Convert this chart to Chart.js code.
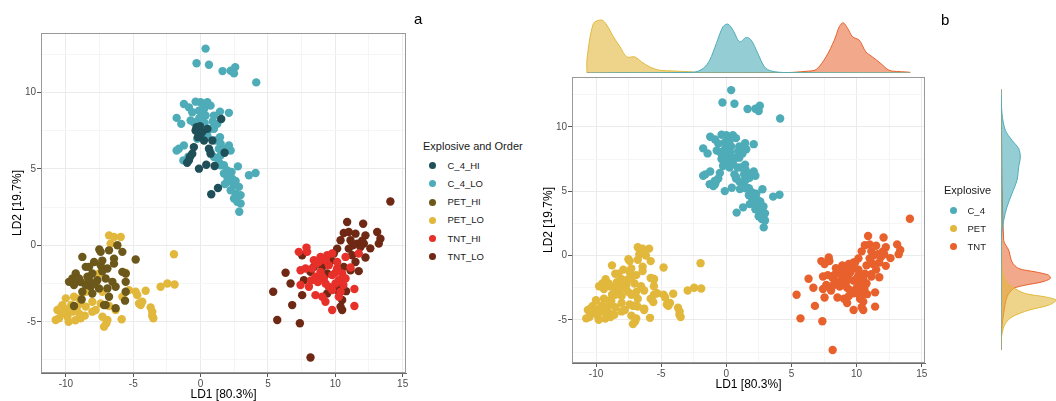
<!DOCTYPE html>
<html>
<head>
<meta charset="utf-8">
<script src="https://cdn.jsdelivr.net/npm/chart.js@4/dist/chart.umd.min.js"></script>
<style>
body{margin:0;width:1056px;height:401px;background:#fff;position:relative;overflow:hidden;font-family:"Liberation Sans",Arial,sans-serif}
.box{position:absolute}
canvas{display:block}
.ltitle{position:absolute;font-size:11px;color:#1a1a1a;white-space:nowrap;line-height:12px}
.item{position:absolute;font-size:9.5px;color:#1a1a1a;white-space:nowrap;line-height:12px}
.dot{position:absolute;width:7px;height:7px;border-radius:50%}
.tag{position:absolute;font-size:15px;color:#000;line-height:16px}
</style>
</head>
<body>
<div class="box" style="left:0;top:0"><canvas id="pa" width="420" height="401"></canvas></div>
<div class="box" style="left:530px;top:0"><canvas id="ptop" width="410" height="75"></canvas></div>
<div class="box" style="left:530px;top:70px"><canvas id="pb" width="410" height="331"></canvas></div>
<div class="box" style="left:990px;top:70px"><canvas id="pright" width="66" height="331"></canvas></div>
<div id="legA"></div>
<div id="legB"></div>
<div class="tag" style="left:414px;top:11px">a</div>
<div class="tag" style="left:941px;top:12px">b</div>

<script>
const FONT = '"Liberation Sans", Arial, sans-serif'

// groups of panel a, in legend order
const groupNames = ["C_4_HI","C_4_LO","PET_HI","PET_LO","TNT_HI","TNT_LO"]
const groupColors = ["#1f4f58","#4eacb8","#6b581a","#e1b83c","#e8302a","#6e2814"]

// explosives of panel b
const explNames = ["C_4","PET","TNT"]
const explColors = ["#4eacb8","#e1b83c","#e8602c"]
const explFills = ["rgba(78,172,184,0.6)","rgba(225,184,60,0.6)","rgba(232,96,44,0.55)"]

// LD1, LD2 scores
const C4_HI = [[1.53,8.26],[-0.3,7.72],[-0.05,7.79],[-0.37,7.5],[0.12,7.4],[0.5,7.61],[-0.2,7.07],[0.25,6.85],[0.87,6.85],[-0.5,6.42],[-0.62,5.99],[-0.87,5.55],[0.62,6.31],[0.74,5.99],[1.78,6.05],[-0.12,5.01],[0.42,5.27],[1.04,5.18],[1.29,3.75],[0.79,3.34],[-0.79,5.77],[-1.0,5.4],[0.0,7.3]]
const C4_LO = [[0.37,12.86],[-0.3,11.9],[0.62,11.8],[1.63,11.39],[2.23,11.41],[2.57,11.65],[2.48,11.24],[4.13,10.65],
[-1.24,9.24],[-0.87,9.02],[-0.37,9.39],[0,9.35],[0.5,9.35],[0.74,9.13],[0.25,8.9],[-0.12,8.8],[-0.62,8.7],
[-1.78,8.33],[-1.44,7.94],[-0.74,8.16],[0.37,8.48],[0.99,8.48],[1.44,8.74],[2.1,8.66],[1.24,7.94],[0.99,7.61],
[1.44,7.07],[1.11,6.85],[0.5,7.18],[-1.61,6.31],[-1.24,6.53],[-1.78,6.2],[2.1,6.53],[2.23,6.2],[1.49,6.64],
[0.74,6.1],[0.99,5.77],[1.49,5.88],[1.36,5.44],[1.73,5.23],[1.98,4.9],[1.73,4.69],[2.77,5.16],[3.59,4.58],
[4.08,4.73],[2.35,4.36],[1.98,4.14],[2.48,3.93],[2.85,3.82],[2.23,3.6],[2.6,3.38],[2.97,3.28],[2.48,3.06],
[2.72,2.84],[2.97,2.73],[2.87,2.19],[1.49,5.23],[1.36,6.31],[1.86,6.31],[-0.5,8.05],[-0.25,6.96],[0.74,7.61],[0.12,8.59],
[-1.28,5.55],[-0.9,5.8],[2.0,4.4],[2.3,4.8],[0.2,9.1],[-0.1,8.3],[0.3,8.0],[0.9,8.1],[1.8,4.0],[2.6,4.2]]
const PET_HI = [[-6.18,0],[-6.8,-0.33],[-5.81,-0.43],[-7.42,-0.43],[-4.82,-0.93],[-6.43,-0.87],[-8.78,-0.76],[-7.91,-1.09],[-8.53,-1.41],[-7.42,-1.3],[-6.92,-1.52],[-9.27,-1.84],[-9.52,-2.17],[-9.03,-2.17],[-8.4,-2.06],[-8.04,-1.84],[-7.67,-2.28],[-7.05,-2.17],[-6.55,-2.39],[-5.81,-1.74],[-5.56,-1.84],[-5.56,-2.39],[-6.31,-2.71],[-6.92,-2.82],[-7.54,-2.82],[-8.16,-2.71],[-8.78,-3.04],[-8.04,-3.15],[-9.4,-2.6],[-9.77,-2.39],[-5.56,-3.04],[-5.61,-3.62],[-7.17,-3.91],[-6.31,-4.12],[-9.4,-3.97],[-8.83,-3.54],[-8.53,-2.6],[-6.8,-3.36],[-8.28,-1.41],[-6.43,-1.2],[-7.52,-0.28],[-7.05,-3.9],[-7.3,-1.0],[-8.9,-2.4],[-7.9,-2.5],[-8.3,-2.2],[-7.3,-1.7]]
const PET_LO = [[-6.8,0.65],[-6.43,0.54],[-5.93,0.54],[-6.68,0.11],[-1.98,-0.59],[-2.97,-2.71],[-2.47,-2.5],[-1.93,-2.56],[-4.08,-2.97],[-4.82,-3.04],[-4.57,-3.8],[-4.33,-3.69],[-3.71,-4.06],[-3.59,-4.34],[-3.51,-4.77],[-5.32,-2.93],[-5.81,-3.36],[-5.86,-4.84],[-6.92,-4.88],[-7.29,-4.67],[-7.17,-5.32],[-7.79,-4.23],[-8.04,-3.69],[-8.53,-4.01],[-8.9,-3.8],[-9.4,-3.36],[-10.01,-3.47],[-10.26,-3.91],[-10.63,-4.23],[-10.51,-4.77],[-9.89,-4.67],[-9.52,-4.34],[-9.03,-4.45],[-8.9,-4.77],[-10.26,-4.45],[-10.76,-4.88],[-6.31,-4.23],[-6.8,-3.97],[-7.29,-3.04],[-7.54,-1.84],[-7.79,-2.5],[-8.4,-2.39],[-8.53,-3.04],[-5.56,-1.84],[-7.42,-3.8],[-8.04,-4.34],[-4.7,-3.26],[-4.45,-3.9],[-9.8,-5.0],[-9.2,-4.1],[-10.0,-4.2],[-7.0,-5.1],[-3.6,-4.6],[-5.6,-1.8],
[-9.6,-3.9],[-9.0,-3.5],[-10.4,-4.1],[-8.6,-4.6],[-9.3,-4.9]]
const TNT_HI = [[7.91,-0.43],[7.29,-0.43],[7.86,-0.15],[7.42,-1.63],[7.79,-1.52],[8.41,-0.98],[8.9,-0.76],[9.4,-0.65],[9.77,-0.54],[8.78,-1.09],[8.28,-1.52],[8.9,-1.74],[8.53,-2.06],[9.15,-2.17],[9.77,-1.95],[10.14,-1.52],[10.51,-1.84],[10.76,-0.76],[11.13,-1.45],[11.74,-0.54],[10.26,-2.28],[10.76,-2.17],[10.01,-2.5],[8.04,-2.71],[8.53,-3.26],[9.03,-3.36],[9.27,-3.69],[9.77,-2.93],[10.26,-3.36],[9.77,-4.23],[11.42,-2.86],[11.42,-3.97],[7.42,-2.6],[9.52,-1.3],[10.14,-1.09],[9.27,-2.5],[10.39,-3.04],[9.0,-2.0],[8.6,-1.2],
[8.7,-2.4],[9.5,-2.7],[10.0,-1.8],[9.3,-1.0],[8.2,-2.3],[10.6,-2.6]]
const TNT_LO = [[14.09,2.86],[10.88,1.52],[12.07,1.41],[10.63,0.8],[11.0,0.87],[11.5,0.76],[12.24,0.65],[13.11,0.87],[13.35,0.43],[13.23,0.11],[10.39,0.33],[11.13,0.33],[11.62,0.11],[12.12,0.11],[10.14,-0.22],[11.0,-0.22],[11.87,-0.11],[12.24,-0.8],[11.25,-0.65],[11.5,-1.09],[11.74,-1.69],[11.13,-1.63],[10.63,-1.41],[7.54,-0.65],[6.31,-1.8],[6.68,-2.5],[5.39,-3.04],[7.54,-3.26],[6.8,-3.91],[5.69,-4.88],[7.37,-5.1],[8.16,-7.34],[7.67,-2.28],[9.4,-1.84],[10.39,-2.5],[10.51,-3.58],[10.51,-4.23],[10.39,-4.01],[8.16,-1.74],[8.41,-1.41],[9.89,-0.54],[9.03,-1.41],[10.14,-2.93],[9.4,-3.15],[12.6,-0.2],[9.7,-1.0],
[11.3,0.0],[12.0,0.3],[10.8,-3.0]]

// marginal densities, [LD1, density] (top) and [LD2, density] (right)
const topC4 = [[-10.7,0],[-2.55,0.007],[-1.79,0.044],[-1.28,0.127],[-0.77,0.294],[-0.26,0.46],[0.12,0.487],[0.51,0.427],[1.02,0.31],[1.53,0.354],[1.91,0.327],[2.42,0.194],[2.93,0.06],[3.44,0.02],[4.59,0.004],[14.1,0]]
const topPET = [[-10.7,0],[-10.7,0.134],[-10.2,0.494],[-9.56,0.527],[-9.18,0.477],[-8.67,0.36],[-8.16,0.26],[-7.65,0.16],[-7.02,0.16],[-6.5,0.11],[-5.87,0.06],[-5.1,0.027],[-4.08,0.02],[-2.55,0.01],[-2.04,0.003],[14.1,0]]
const topTNT = [[-10.7,0],[4.59,0.004],[6.12,0.017],[6.89,0.034],[7.65,0.16],[8.29,0.327],[8.67,0.46],[8.97,0.5],[9.31,0.444],[9.69,0.36],[10.2,0.327],[10.71,0.21],[11.22,0.16],[11.86,0.094],[12.49,0.027],[13.26,0.014],[14.1,0.007],[14.1,0]]
const rightC4 = [[12.86,0],[10.97,0.01],[9.68,0.043],[8.9,0.11],[8.26,0.177],[7.6,0.193],[6.84,0.177],[5.81,0.16],[4.78,0.11],[3.74,0.06],[2.71,0.027],[1.94,0.01],[1.16,0.003],[-7.35,0]]
const rightPET = [[12.86,0],[-0.9,0.01],[-1.94,0.043],[-2.45,0.11],[-2.97,0.243],[-3.23,0.443],[-3.49,0.553],[-3.87,0.477],[-4.26,0.277],[-4.78,0.11],[-5.29,0.043],[-6.07,0.01],[-6.8,0],[-7.35,0]]
const rightTNT = [[12.86,0],[1.16,0.027],[0.39,0.077],[-0.52,0.11],[-1.03,0.177],[-1.29,0.343],[-1.55,0.477],[-1.8,0.493],[-2.07,0.41],[-2.32,0.243],[-2.58,0.127],[-3.23,0.06],[-4.5,0.027],[-5.55,0.01],[-7.35,0]]

const X_MIN=-11.85, X_MAX=15.25, Y_MIN=-8.35, Y_MAX=13.88

const pts = a => a.map(p=>({x:p[0],y:p[1]}))
const major = c => c.tick && Math.abs(c.tick.value%5)<1e-9

function axis(isX, title, fit, titlePad){
  return {
    type:'linear',
    min: isX?X_MIN:Y_MIN, max: isX?X_MAX:Y_MAX,
    afterFit: s=>{ if(isX) s.height=fit; else s.width=fit },
    border:{color:'#707070'},
    grid:{color:c=>major(c)?'#ebebeb':'#f5f5f5', tickColor:c=>major(c)?'#555':'rgba(0,0,0,0)', tickLength:4},
    ticks:{stepSize:2.5, includeBounds:false, autoSkip:false, maxRotation:0, padding:1, color:'#4d4d4d',
      font:{size:10,family:FONT}, callback:v=>Math.abs(v%5)<1e-9?v:''},
    title:{display:true, text:title, color:'#000', font:{size:12,family:FONT}, padding:titlePad}
  }
}

const frame = {
  id:'frame',
  afterDatasetsDraw(c){
    const {ctx,chartArea:a}=c
    ctx.save()
    ctx.strokeStyle='#999'
    ctx.lineWidth=1
    ctx.strokeRect(a.left+0.5,a.top+0.5,a.width-1,a.height-1)
    ctx.restore()
  }
}

const base = {animation:false, responsive:false, events:[],
  plugins:{legend:{display:false}, tooltip:{enabled:false}}}

function scatterSet(data,color){
  return {data:pts(data), backgroundColor:color, pointRadius:4.2, pointBorderWidth:0, pointHoverRadius:0}
}

// panel a
const groups = [C4_HI,C4_LO,PET_HI,PET_LO,TNT_HI,TNT_LO]
new Chart(document.getElementById("pa"),{
  type:'scatter',
  data:{datasets:groups.map((g,i)=>scatterSet(g,groupColors[i]))},
  options:{...base,
    layout:{padding:{left:0,top:33,right:14,bottom:0}},
    scales:{
      x:axis(true,'LD1 [80.3%]',28,{top:0,bottom:-1}),
      y:axis(false,'LD2 [19.7%]',41,{top:10,bottom:0})
    }},
  plugins:[frame]
})

// panel b
const expl = [C4_HI.concat(C4_LO), PET_HI.concat(PET_LO), TNT_HI.concat(TNT_LO)]
new Chart(document.getElementById("pb"),{
  type:'scatter',
  data:{datasets:expl.map((g,i)=>scatterSet(g,explColors[i]))},
  options:{...base,
    layout:{padding:{left:0,top:6,right:15,bottom:0}},
    scales:{
      x:axis(true,'LD1 [80.3%]',38,{top:0,bottom:9}),
      y:axis(false,'LD2 [19.7%]',42,{top:11,bottom:0})
    }},
  plugins:[frame]
})

// top marginal density
const tops = [topC4,topPET,topTNT]
new Chart(document.getElementById("ptop"),{
  type:'scatter',
  data:{datasets:tops.map((d,i)=>({data:pts(d), showLine:true, fill:'origin', tension:0.3,
    borderColor:explColors[i], borderWidth:1, backgroundColor:explFills[i], pointRadius:0}))},
  options:{...base,
    layout:{padding:{left:42,right:15,top:10,bottom:2}},
    scales:{x:{display:false,min:X_MIN,max:X_MAX}, y:{display:false,min:0,max:0.627}}}
})

// right marginal density
const rights = [rightC4,rightPET,rightTNT]
new Chart(document.getElementById("pright"),{
  type:'scatter',
  data:{datasets:rights.map((d,i)=>({data:d.map(p=>({x:p[1],y:p[0]})), showLine:true, fill:'shape', tension:0.3,
    borderColor:explColors[i], borderWidth:1, backgroundColor:explFills[i], pointRadius:0}))},
  options:{...base,
    layout:{padding:{left:11,right:0,top:6,bottom:38}},
    scales:{x:{display:false,min:0,max:0.55}, y:{display:false,min:Y_MIN,max:Y_MAX}}}
})

// legends
function legend(id, title, names, colors, x, titleY, y0, step, textX){
  const el = document.getElementById(id)
  let h = `<div class="ltitle" style="left:${x}px;top:${titleY-6}px">${title}</div>`
  names.forEach((n,i)=>{
    const cy = y0+i*step
    h += `<div class="dot" style="left:${x+6}px;top:${cy-3.5}px;background:${colors[i]}"></div>`
    h += `<div class="item" style="left:${textX}px;top:${cy-6}px">${n}</div>`
  })
  el.innerHTML = h
}
legend("legA","Explosive and Order",groupNames,groupColors,423,146,165.7,18.2,447.5)
legend("legB","Explosive",explNames,explColors,944,190,210.7,18,967.5)
</script>
</body>
</html>
